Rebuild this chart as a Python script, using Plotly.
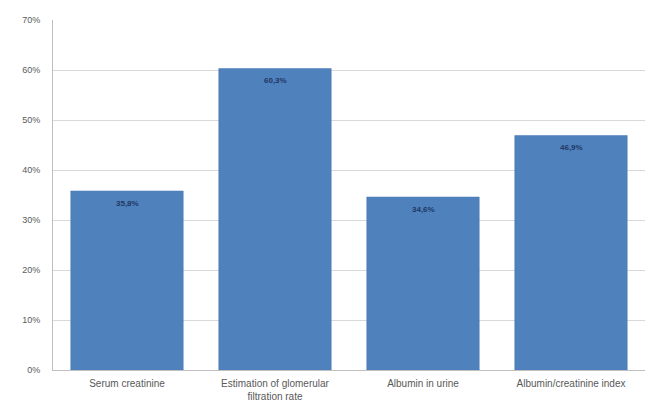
import plotly.graph_objects as go

categories = ["Serum creatinine", "Estimation of glomerular<br>filtration rate",
              "Albumin in urine", "Albumin/creatinine index"]
values = [35.8, 60.3, 34.6, 46.9]
value_labels = ["35,8%", "60,3%", "34,6%", "46,9%"]
y_ticks = [0, 10, 20, 30, 40, 50, 60, 70]
y_tick_labels = [f"{v}%" for v in y_ticks]

fig = go.Figure(go.Bar(
    x=categories, y=values,
    marker=dict(color="#4F81BD", line=dict(color="#4A7AB5", width=0.5)),
    hoverinfo="skip",
))

# value labels sit just under the top of each bar
for cat, val, lab in zip(categories, values, value_labels):
    fig.add_annotation(
        x=cat, y=val, text=f"<b>{lab}</b>", showarrow=False,
        yanchor="middle", yshift=-12,
        font=dict(family="Liberation Sans", size=8, color="#1F3864"),
    )

fig.update_layout(
    width=653, height=403,
    margin=dict(l=53, r=8, t=20, b=33),
    paper_bgcolor="white", plot_bgcolor="white",
    bargap=0.24,
    showlegend=False,
    font=dict(family="Liberation Sans", color="#595959"),
)
fig.update_yaxes(
    range=[0, 70], tickvals=y_ticks, ticktext=y_tick_labels,
    showgrid=True, gridcolor="#D9D9D9", gridwidth=1,
    showline=True, linecolor="#BFBFBF", linewidth=1,
    tickfont=dict(size=9, color="#595959"), ticks="", zeroline=False,
    ticklabelstandoff=10, automargin=False,
)
fig.update_xaxes(
    showline=True, linecolor="#BFBFBF", linewidth=1,
    tickfont=dict(size=10, color="#595959"), ticks="",
    ticklabelstandoff=4, automargin=False,
)

fig.write_html("out.html")
